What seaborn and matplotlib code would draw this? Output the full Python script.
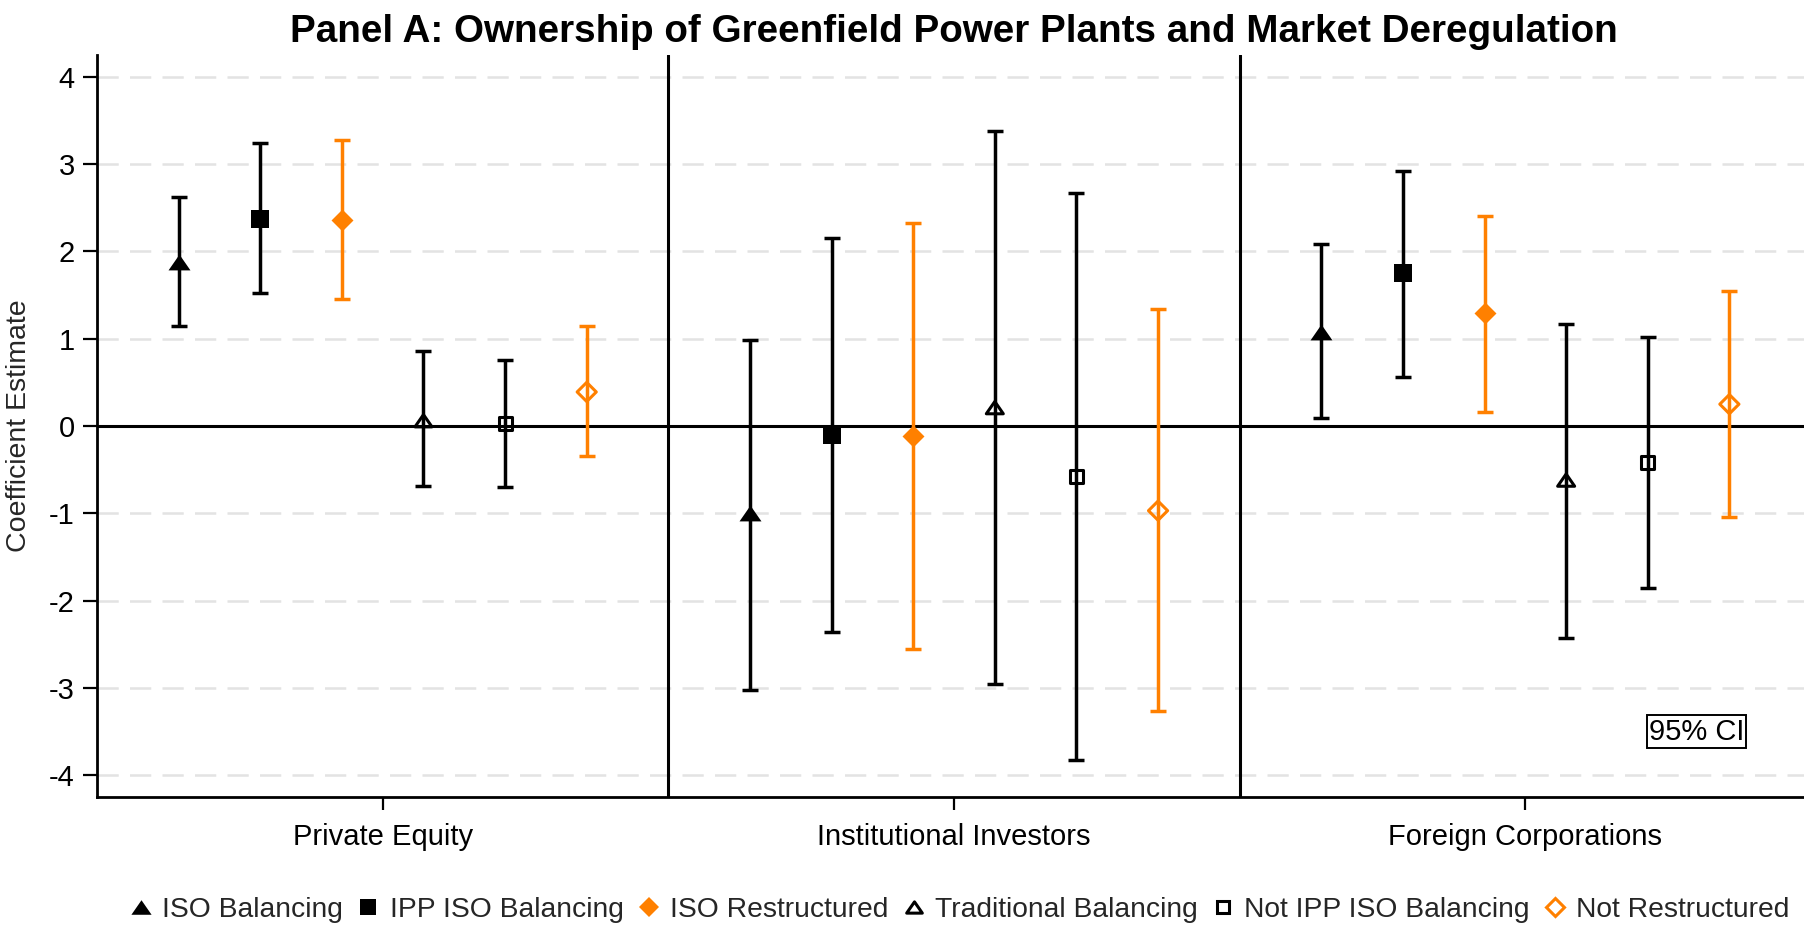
import numpy as np
import pandas as pd
import matplotlib
matplotlib.use("Agg")
import matplotlib.pyplot as plt
from matplotlib.lines import Line2D
from matplotlib.markers import MarkerStyle
from matplotlib.path import Path
import seaborn as sns

# ---- data -----------------------------------------------------------------
categories = ["Private Equity", "Institutional Investors", "Foreign Corporations"]
series = ["ISO Balancing", "IPP ISO Balancing", "ISO Restructured",
          "Traditional Balancing", "Not IPP ISO Balancing", "Not Restructured"]

iso_bal_est = [1.88, -1.00, 1.08]
iso_bal_lo = [1.14, -3.02, 0.09]
iso_bal_hi = [2.62, 0.98, 2.08]

ipp_iso_bal_est = [2.37, -0.10, 1.75]
ipp_iso_bal_lo = [1.52, -2.36, 0.56]
ipp_iso_bal_hi = [3.24, 2.15, 2.92]

iso_restr_est = [2.36, -0.12, 1.29]
iso_restr_lo = [1.46, -2.56, 0.16]
iso_restr_hi = [3.28, 2.32, 2.41]

trad_bal_est = [0.06, 0.21, -0.62]
trad_bal_lo = [-0.69, -2.95, -2.43]
trad_bal_hi = [0.86, 3.38, 1.17]

not_ipp_est = [0.03, -0.58, -0.42]
not_ipp_lo = [-0.70, -3.83, -1.86]
not_ipp_hi = [0.76, 2.67, 1.02]

not_restr_est = [0.39, -0.97, 0.25]
not_restr_lo = [-0.34, -3.27, -1.04]
not_restr_hi = [1.14, 1.34, 1.55]

y_ticks = [-4, -3, -2, -1, 0, 1, 2, 3, 4]
y_tick_labels = ["-4", "-3", "-2", "-1", "0", "1", "2", "3", "4"]

estimates = [iso_bal_est, ipp_iso_bal_est, iso_restr_est,
             trad_bal_est, not_ipp_est, not_restr_est]
lows = [iso_bal_lo, ipp_iso_bal_lo, iso_restr_lo,
        trad_bal_lo, not_ipp_lo, not_restr_lo]
highs = [iso_bal_hi, ipp_iso_bal_hi, iso_restr_hi,
         trad_bal_hi, not_ipp_hi, not_restr_hi]

# ---- styling ----------------------------------------------------------------
sns.set_theme(style="white")
plt.rcParams["font.family"] = ["Liberation Sans", "DejaVu Sans"]
plt.rcParams["axes.unicode_minus"] = False

BLACK = "#000000"
ORANGE = "#ff8000"

# wide, flat triangle used by the balancing series
tri_path = Path([(-1.0, -0.72), (1.0, -0.72), (0.0, 0.72), (-1.0, -0.72)],
                [Path.MOVETO, Path.LINETO, Path.LINETO, Path.CLOSEPOLY])

styles = [
    dict(marker=MarkerStyle(tri_path), color=BLACK, filled=True, s=250),
    dict(marker="s", color=BLACK, filled=True, s=160),
    dict(marker="D", color=ORANGE, filled=True, s=125),
    dict(marker=MarkerStyle(tri_path), color=BLACK, filled=False, s=150),
    dict(marker="s", color=BLACK, filled=False, s=90),
    dict(marker="D", color=ORANGE, filled=False, s=95),
]

rows = []
n = len(series)
for k, name in enumerate(series):
    for c, cat in enumerate(categories):
        rows.append(dict(series=name, category=cat,
                         x=c + (k - (n - 1) / 2) / 7.0,
                         est=estimates[k][c], lo=lows[k][c], hi=highs[k][c]))
df = pd.DataFrame(rows)

fig = plt.figure(figsize=(18.04, 9.27), dpi=100)
ax = fig.add_axes([97 / 1804, 130 / 927, 1714 / 1804, 742 / 927])

# dashed horizontal grid
for yv in y_ticks:
    if yv != 0:
        ax.axhline(yv, color="#e3e3e3", lw=1.8, ls=(0, (8.5, 4.5)), zorder=0)

# panel separators and zero reference
for xv in [0.5, 1.5]:
    ax.axvline(xv, color=BLACK, lw=2.2, zorder=1)
ax.axhline(0, color=BLACK, lw=2.2, zorder=1)

# confidence intervals and point estimates
for k, name in enumerate(series):
    sub = df[df["series"] == name]
    st = styles[k]
    ax.errorbar(sub["x"], sub["est"],
                yerr=[sub["est"] - sub["lo"], sub["hi"] - sub["est"]],
                fmt="none", ecolor=st["color"], elinewidth=2.5,
                capsize=5.8, capthick=2.5, zorder=2)
    sns.scatterplot(data=sub, x="x", y="est", marker=st["marker"],
                    color=st["color"], s=st["s"], linewidth=0 if st["filled"] else 2.2,
                    ax=ax, legend=False, zorder=3)
    coll = ax.collections[-1]
    if st["filled"]:
        coll.set_facecolor(st["color"])
        coll.set_edgecolor(st["color"])
    else:
        coll.set_facecolor("none")
        coll.set_edgecolor(st["color"])
        coll.set_linewidth(2.2)

ax.set_xlim(-0.5, 2.5)
ax.set_ylim(-4.25, 4.25)
ax.set_xticks(range(len(categories)))
ax.set_xticklabels(categories)
ax.set_yticks(y_ticks)
ax.set_yticklabels(y_tick_labels)
ax.set_xlabel("")
ax.set_ylabel("Coefficient Estimate", fontsize=20.5, labelpad=12)
ax.tick_params(axis="y", labelsize=21, length=10, width=1.6, pad=6, color=BLACK,
               left=True, labelcolor=BLACK)
ax.tick_params(axis="x", labelsize=21, length=9.5, width=1.6, pad=9, color=BLACK,
               bottom=True, labelcolor=BLACK)
for side in ["top", "right"]:
    ax.spines[side].set_visible(False)
for side in ["left", "bottom"]:
    ax.spines[side].set_color(BLACK)
    ax.spines[side].set_linewidth(2.0)
ax.grid(False)

ax.text(2.3, -3.5, "95% CI", ha="center", va="center", fontsize=21, color=BLACK,
        bbox=dict(boxstyle="square,pad=0.07", fc="white", ec=BLACK, lw=1.4), zorder=4)

fig.text(954 / 1804, 1 - 42 / 927,
         "Panel A: Ownership of Greenfield Power Plants and Market Deregulation",
         ha="center", va="baseline", fontsize=27.8, fontweight="bold", color=BLACK)

# legend along the bottom
handles = []
for k, name in enumerate(series):
    st = styles[k]
    handles.append(Line2D([], [], ls="none", marker=st["marker"],
                          markersize=np.sqrt(st["s"]) * 0.92,
                          markerfacecolor=st["color"] if st["filled"] else "none",
                          markeredgecolor=st["color"],
                          markeredgewidth=0 if st["filled"] else 2.2))
fig.legend(handles, series, loc="center", bbox_to_anchor=(959 / 1804, 1 - 910 / 927),
           ncol=6, frameon=False, fontsize=20.3, handlelength=0.9,
           handletextpad=0.3, columnspacing=0.45, borderaxespad=0)

fig.savefig("out.png", dpi=100)
